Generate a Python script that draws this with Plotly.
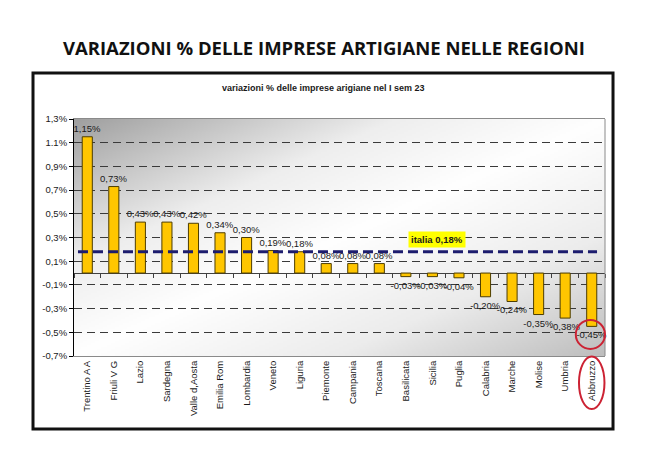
import base64
import struct
import zlib
import numpy as np
import plotly.graph_objects as go

# data (values in %)
regions = ['Trentino A A', 'Friuli V G', 'Lazio', 'Sardegna', 'Valle d,Aosta',
           'Emilia Rom', 'Lombardia', 'Veneto', 'Liguria', 'Piemonte',
           'Campania', 'Toscana', 'Basilicata', 'Sicilia', 'Puglia',
           'Calabria', 'Marche', 'Molise', 'Umbria', 'Abbruzzo']
variazioni = [1.15, 0.73, 0.43, 0.43, 0.42, 0.34, 0.30, 0.19, 0.18, 0.08,
              0.08, 0.08, -0.03, -0.03, -0.04, -0.20, -0.24, -0.35, -0.38, -0.45]
italia = 0.18
y_ticks = [1.3, 1.1, 0.9, 0.7, 0.5, 0.3, 0.1, -0.1, -0.3, -0.5, -0.7]
y_ticktext = ['1,3%', '1.1%', '0,9%', '0,7%', '0,5%', '0,3%', '0,1%',
              '-0,1%', '-0,3%', '-0,5%', '-0,7%']

FONT = 'Liberation Sans, Arial, sans-serif'
ymin, ymax = -0.7, 1.3
xmin, xmax = -0.5, len(regions) - 0.5

labels = [f"{v:.2f}".replace('.', ',') + '%' for v in variazioni]
xs = list(range(len(regions)))


def gradient_png(w=266, h=118):
    """diagonal gray gradient like the excel plot area, as a png data uri"""
    gx, gy = np.meshgrid(np.linspace(0, 1, w), np.linspace(0, 1, h))
    t = (gx + gy) / 2
    stops_t = [0.0, 0.3, 0.5, 0.75, 1.0]
    stops_v = [160, 238, 255, 236, 190]
    img = np.interp(t, stops_t, stops_v).astype(np.uint8)
    raw = b''.join(b'\x00' + img[r].tobytes() for r in range(h))

    def chunk(tag, data):
        c = struct.pack('>I', len(data)) + tag + data
        return c + struct.pack('>I', zlib.crc32(tag + data) & 0xffffffff)

    png = b'\x89PNG\r\n\x1a\n'
    png += chunk(b'IHDR', struct.pack('>IIBBBBB', w, h, 8, 0, 0, 0, 0))
    png += chunk(b'IDAT', zlib.compress(raw, 9))
    png += chunk(b'IEND', b'')
    return 'data:image/png;base64,' + base64.b64encode(png).decode()


fig = go.Figure()

fig.add_trace(go.Bar(
    x=xs, y=variazioni, width=0.38,
    marker=dict(color='#ffc600', line=dict(color='#4d3d00', width=1)),
    text=labels, textposition='outside', constraintext='none', cliponaxis=False,
    textfont=dict(family=FONT, size=9.5, color='#1a1a1a'),
    showlegend=False, hoverinfo='skip'
))

# dummy trace so the zero-axis ticks (xaxis2) get drawn
fig.add_trace(go.Scatter(x=[None], y=[None], xaxis='x2', yaxis='y',
                         showlegend=False, hoverinfo='skip'))

# page body has an 8px margin, so the figure is a bit smaller than the window
fig.update_layout(
    width=642, height=462,
    margin=dict(l=66, r=45, t=111, b=114),
    paper_bgcolor='white', plot_bgcolor='rgba(0,0,0,0)',
    hovermode=False,
    xaxis=dict(range=[xmin, xmax], tickvals=xs, ticktext=regions, tickangle=-90,
               tickfont=dict(family=FONT, size=9.5, color='#1a1a1a'),
               showgrid=False, zeroline=False, ticks='',
               showline=True, linecolor='#8a8a8a', linewidth=1, mirror=True,
               automargin=False),
    xaxis2=dict(range=[xmin, xmax], overlaying='x', anchor='free',
                position=(0 - ymin) / (ymax - ymin),
                tickvals=[i + 0.5 for i in range(-1, len(regions))],
                ticks='outside', ticklen=4, tickcolor='#404040',
                showticklabels=False, showgrid=False, zeroline=False, showline=False),
    yaxis=dict(range=[ymin, ymax], tickvals=y_ticks, ticktext=y_ticktext,
               tickfont=dict(family=FONT, size=9.5, color='#1a1a1a'),
               ticks='outside', ticklen=4, tickcolor='#000000',
               showline=True, linecolor='#000000', linewidth=1,
               showgrid=True, gridcolor='#3a3a3a', gridwidth=1, griddash='8px,5px',
               zeroline=True, zerolinecolor='#404040', zerolinewidth=1,
               automargin=False),
    images=[dict(source=gradient_png(), xref='paper', yref='paper', x=0, y=1,
                 sizex=1, sizey=1, sizing='stretch', layer='below',
                 xanchor='left', yanchor='top')],
)

# right border of plot area, outer frame, italia line, red circles
fig.add_shape(type='line', xref='paper', yref='paper', x0=1, x1=1, y0=0, y1=1,
              line=dict(color='#8a8a8a', width=1))
fig.add_shape(type='rect', xref='paper', yref='paper',
              x0=-0.0772, x1=1.0151, y0=-0.308, y1=1.194,
              line=dict(color='#111111', width=3))
fig.add_shape(type='line', xref='paper', yref='y', x0=0.0075, x1=0.985,
              y0=italia, y1=italia, layer='above',
              line=dict(color='#1c1c6e', width=3, dash='10px,5px'))
fig.add_shape(type='circle', xref='paper', yref='paper',
              x0=0.945, x1=1.0, y0=0.03, y1=0.152,
              line=dict(color='#cc2233', width=2))
fig.add_shape(type='circle', xref='paper', yref='paper',
              x0=0.951, x1=0.999, y0=-0.224, y1=-0.002,
              line=dict(color='#cc2233', width=2))

fig.add_annotation(text='VARIAZIONI % DELLE IMPRESE ARTIGIANE NELLE REGIONI',
                   xref='paper', yref='paper', x=0.471, y=1.2996,
                   showarrow=False, xanchor='center', yanchor='middle',
                   font=dict(family='Open Sans, sans-serif', size=18.5, color='#111111',
                             weight='bold'))
fig.add_annotation(text='<b>variazioni % delle imprese arigiane nel I sem 23</b>',
                   xref='paper', yref='paper', x=0.47, y=1.131,
                   showarrow=False, xanchor='center', yanchor='middle',
                   font=dict(family=FONT, size=9, color='#1a1a1a'))
fig.add_annotation(text='<b>italia 0,18%</b>', xref='paper', yref='y',
                   x=0.684, y=italia + 0.1, showarrow=False,
                   xanchor='center', yanchor='middle', bgcolor='#ffff00',
                   borderpad=2, font=dict(family=FONT, size=9.5, color='#1a1a1a'))

fig.write_html("out.html")
